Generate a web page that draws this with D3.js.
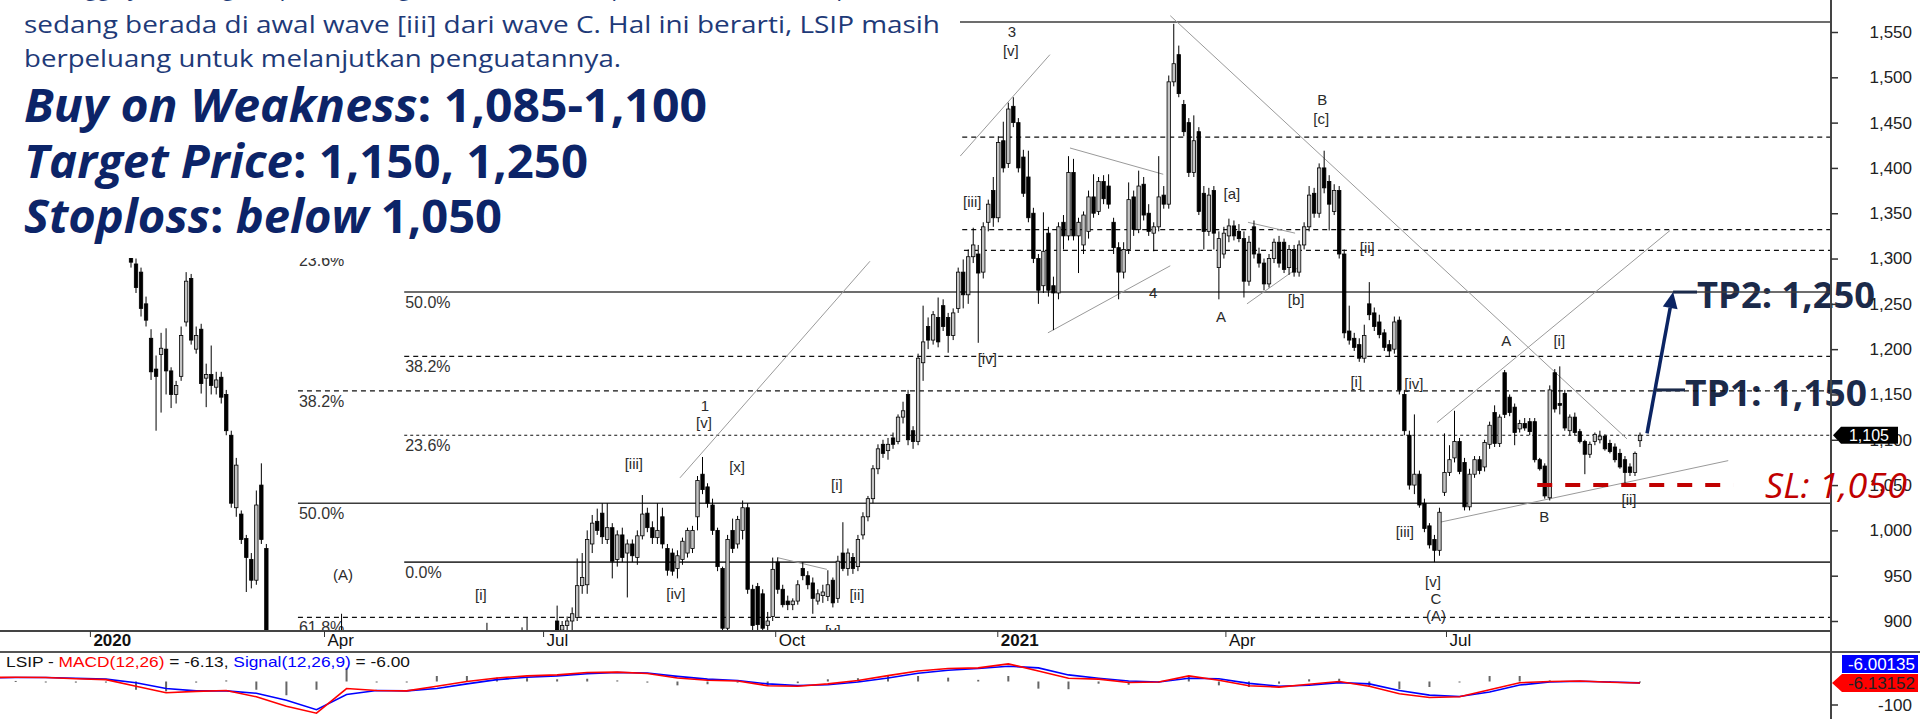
<!DOCTYPE html>
<html lang="id">
<head>
<meta charset="UTF-8">
<title>LSIP - Elliott Wave</title>
<script src="https://d3js.org/d3.v7.min.js"></script>
<style>
  body { margin: 0; background: #fff; }
  svg { display: block; font-family: "Liberation Sans", Arial, sans-serif; }
</style>
</head>
<body>
<svg width="1920" height="719"></svg>
<script>
// LSIP bars, roughly two trading days each, Jan 2020 - Sep 2021: [open, high, low, close]
const candles = [
  [1305,1315,1290,1296],[1294,1300,1262,1268],[1285,1290,1236,1245],[1250,1258,1225,1232],[1212,1222,1166,1175],
  [1178,1193,1110,1170],[1194,1218,1130,1201],[1200,1223,1150,1176],[1176,1180,1135,1150],[1150,1165,1140,1160],
  [1170,1225,1165,1215],[1230,1285,1225,1275],[1278,1283,1205,1210],[1200,1225,1195,1215],[1222,1228,1151,1162],
  [1168,1184,1136,1172],[1172,1204,1150,1160],[1158,1175,1150,1166],[1169,1175,1140,1147],[1150,1155,1105,1110],
  [1105,1110,1025,1030],[1025,1080,1015,1072],[1018,1022,985,990],[991,995,932,970],[968,975,936,945],
  [945,1044,940,1028],[1050,1074,985,990],[980,985,850,865],
  // Mar - Jul 2020, mostly below the visible range
  [860,870,800,810],[810,820,760,770],[770,790,700,720],[720,760,640,660],[660,700,600,620],
  [620,660,560,580],[580,640,540,620],[620,680,600,650],[650,700,620,640],[640,720,630,700],
  [700,760,680,740],[740,800,720,780],[780,840,760,820],[820,870,790,800],[800,908,790,860],
  [860,880,820,840],[840,860,800,810],[810,840,780,830],[830,850,790,800],[800,830,770,820],
  [820,860,810,850],[850,870,820,830],[830,850,800,810],[810,840,790,830],[830,860,815,845],
  [845,870,820,830],[830,850,800,815],[815,845,800,840],[840,870,825,860],[860,880,840,850],
  [850,870,820,830],[830,850,800,820],[820,845,805,835],[835,860,820,850],[850,875,830,840],
  [840,860,815,825],[825,850,810,845],[845,870,830,860],[860,880,845,855],[855,870,830,840],
  [840,865,825,860],[860,880,845,870],[870,885,850,860],[860,898,850,875],[875,885,850,855],
  [855,875,840,865],[865,880,850,870],[870,885,855,860],[860,880,845,875],[875,888,860,880],
  [880,893,865,870],[870,904,860,885],[885,888,860,865],[865,880,850,875],[875,890,860,870],
  [870,885,855,880],[880,888,865,875],[900,917,880,890],[890,900,875,895],[895,905,880,900],
  [900,915,890,908],[904,969,900,939],
  // Jul - Sep 2020
  [939,975,930,948],[940,1000,930,990],[985,1017,975,1008],[1010,1024,995,1000],[1019,1030,985,993],
  [990,1030,985,1003],[1003,1008,947,966],[968,1000,960,995],[995,1003,965,970],[975,990,926,985],
  [985,990,965,972],[970,1000,962,994],[994,1039,990,1018],[1019,1025,998,1003],[1003,1010,985,992],
  [992,1030,985,1000],[1015,1025,980,985],[980,985,950,956],[975,980,950,955],[958,978,947,972],
  [968,992,962,988],[975,1003,970,1000],[980,1005,975,1000],[1015,1060,1000,1055],[1062,1081,1040,1045],
  [1048,1052,1025,1030],[1028,1035,995,1000],[1000,1003,955,960],[958,960,885,892],[892,995,885,990],
  [1000,1013,975,980],[985,1016,980,1012],[1000,1033,990,1025],[1025,1030,930,935],[935,940,890,895],
  // Oct 2020 - Feb 2021
  [938,942,890,896],[930,935,888,892],[895,910,885,900],[905,970,900,957],[965,970,930,935],
  [935,940,915,918],[922,928,912,918],[918,925,912,922],[922,945,918,940],[958,965,945,950],
  [950,955,935,940],[942,948,908,925],[922,935,918,930],[928,940,920,932],[927,956,922,940],
  [945,948,915,920],[925,972,920,966],[975,1009,955,958],[958,980,950,975],[970,975,952,958],
  [960,995,955,990],[995,1020,990,1015],[1015,1038,1010,1035],[1035,1072,1030,1068],[1068,1095,1062,1090],
  [1095,1100,1080,1085],[1088,1102,1078,1095],[1102,1108,1090,1095],[1098,1128,1095,1125],[1125,1142,1118,1132],
  [1150,1155,1094,1100],[1110,1115,1090,1098],[1098,1195,1094,1190],[1185,1248,1165,1208],[1225,1235,1200,1210],
  [1210,1242,1205,1238],[1235,1257,1202,1208],[1248,1255,1220,1225],[1235,1240,1196,1215],[1215,1245,1210,1240],
  [1245,1290,1240,1285],[1285,1299,1245,1260],[1260,1310,1250,1302],[1302,1334,1295,1315],[1305,1315,1207,1284],
  [1285,1340,1278,1335],[1340,1365,1330,1360],[1375,1390,1335,1345],[1345,1435,1340,1428],[1430,1451,1395,1400],
  [1405,1472,1400,1465],[1468,1478,1445,1450],[1450,1455,1395,1400],[1412,1420,1368,1372],[1390,1419,1340,1345],
  [1350,1356,1295,1300],[1300,1305,1250,1265],[1270,1351,1262,1308],[1328,1335,1258,1265],[1270,1280,1221,1262],
  [1262,1340,1255,1335],[1340,1348,1310,1325],[1325,1413,1320,1395],[1395,1410,1320,1325],[1325,1345,1284,1340],
  // Feb - Jun 2021
  [1315,1352,1305,1348],[1330,1375,1322,1368],[1368,1393,1345,1350],[1352,1390,1348,1385],[1385,1392,1360,1366],
  [1380,1393,1355,1360],[1340,1345,1305,1312],[1312,1318,1255,1285],[1285,1318,1278,1310],[1310,1384,1305,1365],
  [1368,1375,1325,1332],[1332,1397,1328,1380],[1382,1390,1342,1348],[1350,1360,1325,1330],[1328,1340,1308,1335],
  [1335,1413,1330,1368],[1370,1380,1355,1360],[1360,1502,1355,1495],[1495,1559,1490,1515],[1525,1535,1478,1482],
  [1470,1475,1435,1440],[1450,1455,1390,1395],[1395,1458,1390,1430],[1440,1445,1348,1352],[1372,1380,1310,1330],
  [1330,1378,1325,1370],[1375,1380,1310,1328],[1290,1330,1255,1322],[1305,1335,1300,1328],[1325,1344,1318,1336],
  [1336,1342,1320,1325],[1330,1338,1318,1322],[1322,1330,1257,1275],[1275,1325,1270,1318],[1335,1342,1300,1305],
  [1305,1312,1290,1295],[1295,1300,1265,1272],[1272,1305,1268,1300],[1300,1322,1295,1318],[1318,1325,1290,1295],
  [1318,1322,1284,1288],[1290,1315,1282,1310],[1310,1315,1280,1285],[1285,1320,1280,1315],[1315,1340,1310,1335],
  [1335,1380,1330,1370],[1372,1378,1345,1350],[1350,1405,1345,1400],[1400,1419,1372,1378],[1385,1392,1331,1360],
  [1352,1382,1348,1375],[1375,1380,1300,1305],[1305,1310,1212,1218],[1220,1248,1205,1210],[1212,1218,1198,1202],
  [1205,1212,1186,1190],[1190,1227,1185,1215],[1250,1274,1232,1238],[1240,1246,1220,1225],[1230,1238,1212,1216],
  [1218,1222,1198,1202],[1205,1210,1192,1198],[1200,1236,1195,1230],[1232,1236,1150,1155],[1150,1155,1105,1110],
  [1105,1110,1045,1050],[1050,1128,1040,1062],
  // Jun - Sep 2021
  [1062,1066,1025,1028],[1030,1035,998,1002],[1005,1008,980,984],[990,995,965,978],[978,1025,972,1020],
  [1042,1107,1038,1064],[1064,1094,1060,1078],[1080,1132,1075,1098],[1098,1102,1062,1065],[1075,1080,1022,1026],
  [1026,1068,1022,1062],[1062,1082,1058,1078],[1078,1082,1062,1066],[1070,1100,1065,1097],[1095,1120,1090,1116],
  [1130,1138,1092,1096],[1096,1128,1092,1125],[1174,1177,1124,1128],[1147,1150,1126,1130],[1136,1140,1094,1108],
  [1112,1122,1108,1118],[1118,1124,1110,1113],[1120,1124,1105,1109],[1120,1124,1075,1078],[1078,1080,1066,1068],
  [1071,1074,1035,1038],[1036,1160,1033,1155],[1174,1178,1130,1134],[1140,1181,1128,1138],[1151,1155,1110,1113],
  [1110,1128,1105,1125],[1125,1130,1105,1108],[1109,1112,1096,1098],[1098,1100,1062,1084],[1084,1098,1080,1095],
  [1098,1108,1094,1106],[1100,1110,1096,1104],[1104,1106,1088,1090],[1096,1100,1085,1087],[1092,1096,1075,1078],
  [1085,1090,1068,1070],[1078,1082,1052,1064],[1070,1074,1060,1064],[1064,1087,1060,1085],[1099,1108,1092,1105]
];

// MACD(12,26) and signal, sampled every 6 bars starting at bar -29
const macdStart = -29, macdStep = 6;
const macdValues = [17,18,17,12,8,-20,-48,-42,-38,-65,-105,-135,-30,-38,-40,-20,0,15,24,28,38,40,34,15,5,2,-18,-20,-10,4,
  25,45,55,58,75,45,14,10,-4,-2,24,5,-18,-24,-12,0,-20,-52,-68,-65,-35,-5,0,2,-3,-6.13];
const signalValues = [15,17,17,14,10,-5,-30,-40,-40,-50,-80,-120,-55,-38,-40,-30,-10,8,18,24,33,38,36,22,10,4,-10,-17,-14,-2,
  15,35,48,55,65,58,28,14,2,-2,14,12,-8,-20,-16,-5,-10,-38,-58,-64,-45,-15,-2,1,-2,-6.00];

const priceTicks = [900,950,1000,1050,1100,1150,1200,1250,1300,1350,1400,1450,1500,1550];
const timeTicks = [
  {label: "2020", bar: -8.2, year: true}, {label: "Apr", bar: 38.5}, {label: "Jul", bar: 82.2},
  {label: "Oct", bar: 128.5}, {label: "2021", bar: 172.8, year: true}, {label: "Apr", bar: 218.3},
  {label: "Jul", bar: 262.3}
];

// Fibonacci retracement levels: price, first bar, line type, label
const fibLevels = [
  {price: 1561, from: 54.5, kind: "solid"},
  {price: 1434, from: 54.5, kind: "dashed"},
  {price: 1332, from: 54.5, kind: "dashed"},
  {price: 1309, from: 33.3, kind: "dashed", label: "23.6%"},
  {price: 1263, from: 54.5, kind: "solid", label: "50.0%"},
  {price: 1192, from: 54.5, kind: "dashed", label: "38.2%"},
  {price: 1154, from: 33.3, kind: "dashed", label: "38.2%"},
  {price: 1105, from: 54.5, kind: "dotted", label: "23.6%"},
  {price: 1030, from: 33.3, kind: "solid", label: "50.0%"},
  {price: 965, from: 54.5, kind: "solid", label: "0.0%"},
  {price: 904, from: 33.3, kind: "dashed", label: "61.8%"}
];

// trend lines: [bar1, price1, bar2, price2]
const trendLines = [
  [109.5, 1058, 147.4, 1297], [165.4, 1413, 183.3, 1525], [187.3, 1422, 205.9, 1393],
  [182.9, 1218, 207.3, 1292], [207.3, 1568, 298.4, 1101], [222.8, 1340, 232.2, 1328],
  [222.6, 1250, 232.8, 1290], [260.5, 1119, 307.0, 1331], [261.1, 1009, 318.6, 1077],
  [128.9, 970, 138.8, 957]
];

// Elliott wave counts: text, bar, price
const waveLabels = [
  ["(A)", 42.3, 945], ["[i]", 69.8, 923], ["[iii]", 100.3, 1068], ["[iv]", 108.7, 924],
  ["1", 114.5, 1132], ["[v]", 114.3, 1113], ["[x]", 120.9, 1064], ["[v]", 140, 883],
  ["[ii]", 144.8, 923], ["[i]", 140.8, 1045], ["[iii]", 167.8, 1357], ["[iv]", 170.8, 1184],
  ["3", 175.7, 1544], ["[v]", 175.5, 1524], ["4", 203.9, 1257], ["A", 217.4, 1230],
  ["[a]", 219.6, 1366], ["[b]", 232.4, 1249], ["B", 237.6, 1469], ["[c]", 237.4, 1449],
  ["[i]", 244.4, 1158], ["[ii]", 246.6, 1306], ["[iii]", 254.1, 993], ["[iv]", 255.9, 1156],
  ["[v]", 259.7, 938], ["C", 260.3, 919], ["(A)", 260.3, 900], ["A", 274.3, 1203],
  ["[i]", 284.9, 1203], ["B", 281.9, 1009], ["[ii]", 298.8, 1028]
];

const lastPrice = 1105, stopLoss = 1050;
const targets = [{name: "TP1: 1,150", price: 1155}, {name: "TP2: 1,250", price: 1263}];
const arrowFrom = [302.4, 1107], arrowTo = [307.6, 1263];

const svg = d3.select("svg");
const axisX = 1831, priceBottom = 631, macdTop = 652, H = 719;

const x = d3.scaleLinear().domain([0, candles.length - 1]).range([131, 1640]);
const y = d3.scaleLinear().domain([900, 1550]).range([621, 32]);
const ym = d3.scaleLinear().domain([-100, 0]).range([705, 681.5]);
const yh = d3.scaleLinear().domain([-10, 0]).range([687, 681.5]);

svg.append("rect").attr("width", 1920).attr("height", H).attr("fill", "#fff");

const defs = svg.append("defs");
defs.append("clipPath").attr("id", "cp").append("rect")
  .attr("x", 0).attr("y", 0).attr("width", axisX).attr("height", priceBottom);
defs.append("clipPath").attr("id", "cm").append("rect")
  .attr("x", 0).attr("y", macdTop).attr("width", axisX).attr("height", H - macdTop);

// target texts sit under the fib lines, as in the original
const ann = svg.append("g");
targets.forEach(t => {
  ann.append("text")
    .attr("x", t.price > 1200 ? 1697 : 1685).attr("y", y(t.price) + 16)
    .attr("font-family", "'Open Sans', sans-serif").attr("font-weight", 700)
    .attr("font-size", 36).attr("fill", "#1b2a4a")
    .attr("textLength", t.price > 1200 ? 178 : 182).attr("lengthAdjust", "spacingAndGlyphs")
    .text(t.name);
});

const gp = svg.append("g").attr("clip-path", "url(#cp)");

// fib lines
gp.selectAll(".fib").data(fibLevels).join("line")
  .attr("x1", d => x(d.from)).attr("x2", axisX)
  .attr("y1", d => y(d.price)).attr("y2", d => y(d.price))
  .attr("stroke", d => d.kind === "solid" ? "#3c3c3c" : "#111")
  .attr("stroke-width", d => d.kind === "solid" ? 1.6 : 1.2)
  .attr("stroke-dasharray", d => d.kind === "dashed" ? "5,4" : d.kind === "dotted" ? "3,3" : null);

gp.selectAll(".fibl").data(fibLevels.filter(d => d.label)).join("text")
  .attr("x", d => x(d.from) + 1).attr("y", d => y(d.price) + 16)
  .attr("font-size", 16).attr("fill", "#333").text(d => d.label);

// trend lines
gp.selectAll(".trend").data(trendLines).join("line")
  .attr("x1", d => x(d[0])).attr("y1", d => y(d[1]))
  .attr("x2", d => x(d[2])).attr("y2", d => y(d[3]))
  .attr("stroke", "#9a9a9a").attr("stroke-width", 1);

// candles
const bw = 3.4;
const cg = gp.append("g");
cg.selectAll(".wick").data(candles).join("line")
  .attr("x1", (d, i) => x(i)).attr("x2", (d, i) => x(i))
  .attr("y1", d => y(d[1])).attr("y2", d => y(d[2]))
  .attr("stroke", "#000").attr("stroke-width", 1);
cg.selectAll(".body").data(candles).join("rect")
  .attr("x", (d, i) => x(i) - bw / 2)
  .attr("y", d => y(Math.max(d[0], d[3])))
  .attr("width", bw)
  .attr("height", d => Math.max(1, Math.abs(y(d[0]) - y(d[3]))))
  .attr("fill", d => d[3] >= d[0] ? "#c4c4c4" : "#000")
  .attr("stroke", "#000").attr("stroke-width", 0.8);

// wave labels
gp.selectAll(".wave").data(waveLabels).join("text")
  .attr("x", d => x(d[1])).attr("y", d => y(d[2]))
  .attr("text-anchor", "middle").attr("font-size", 15).attr("fill", "#2a2a2a")
  .text(d => d[0]);

// stop loss line
svg.append("line")
  .attr("x1", x(280.5)).attr("x2", x(319.6))
  .attr("y1", y(stopLoss)).attr("y2", y(stopLoss))
  .attr("stroke", "#c00000").attr("stroke-width", 4).attr("stroke-dasharray", "15,13");

// target arrow
const S = [x(arrowFrom[0]), y(arrowFrom[1])], T = [x(arrowTo[0]), y(arrowTo[1])];
const len = Math.hypot(T[0] - S[0], T[1] - S[1]);
const u = [(T[0] - S[0]) / len, (T[1] - S[1]) / len], n = [-u[1], u[0]];
const B = [T[0] - 16 * u[0], T[1] - 16 * u[1]];
svg.append("line").attr("x1", S[0]).attr("y1", S[1]).attr("x2", B[0]).attr("y2", B[1])
  .attr("stroke", "#0b2463").attr("stroke-width", 3.5);
svg.append("polygon")
  .attr("points", [T, [B[0] + 7.5 * n[0], B[1] + 7.5 * n[1]], [B[0] - 7.5 * n[0], B[1] - 7.5 * n[1]]].map(p => p.join(",")).join(" "))
  .attr("fill", "#0b2463");
targets.forEach(t => {
  const ty = y(t.price);
  const sx = S[0] + (T[0] - S[0]) * (S[1] - ty) / (S[1] - T[1]);
  svg.append("line").attr("x1", sx).attr("x2", t.price > 1200 ? 1697 : 1685)
    .attr("y1", ty).attr("y2", ty).attr("stroke", "#1b2a4a").attr("stroke-width", 3);
});

// frame lines
svg.append("line").attr("x1", 0).attr("x2", axisX).attr("y1", priceBottom).attr("y2", priceBottom)
  .attr("stroke", "#444").attr("stroke-width", 2);
svg.append("line").attr("x1", 0).attr("x2", 1920).attr("y1", macdTop).attr("y2", macdTop)
  .attr("stroke", "#555").attr("stroke-width", 2);
svg.append("line").attr("x1", axisX).attr("x2", axisX).attr("y1", 0).attr("y2", H)
  .attr("stroke", "#444").attr("stroke-width", 2);

// price axis
const ay = svg.append("g").attr("transform", `translate(${axisX},0)`)
  .call(d3.axisRight(y).tickValues(priceTicks).tickFormat(d3.format(",")).tickSize(7));
ay.select(".domain").remove();
ay.selectAll("line").attr("stroke", "#333").attr("stroke-width", 1.5);
ay.selectAll("text").attr("x", 81).attr("text-anchor", "end")
  .attr("font-size", 17).attr("font-family", "'Liberation Sans', Arial, sans-serif").attr("fill", "#222");

// time axis
const ax = svg.append("g").attr("transform", `translate(0,${priceBottom})`)
  .call(d3.axisBottom(x).tickValues(timeTicks.map(d => d.bar))
    .tickFormat((d, i) => timeTicks[i].label).tickSize(6));
ax.select(".domain").remove();
ax.selectAll("line").attr("stroke", "#333");
ax.selectAll("text").attr("text-anchor", "start").attr("x", 3).attr("y", 3).attr("dy", "0.71em")
  .attr("font-size", 17).attr("font-family", "'Liberation Sans', Arial, sans-serif").attr("fill", "#111")
  .attr("font-weight", (d, i) => timeTicks[i].year ? 700 : 400);

// MACD panel
const gm = svg.append("g").attr("clip-path", "url(#cm)");
const mx = (d, k) => x(macdStart + k * macdStep);
gm.selectAll(".hist").data(macdValues).join("rect")
  .attr("x", (d, k) => mx(d, k) - 1)
  .attr("y", (d, k) => Math.min(yh(d - signalValues[k]), yh(0)))
  .attr("width", 2)
  .attr("height", (d, k) => Math.max(1, Math.abs(yh(d - signalValues[k]) - yh(0))))
  .attr("fill", "#666");
gm.append("path").datum(signalValues)
  .attr("d", d3.line().x(mx).y(d => ym(d)))
  .attr("fill", "none").attr("stroke", "#0000ff").attr("stroke-width", 1.6);
gm.append("path").datum(macdValues)
  .attr("d", d3.line().x(mx).y(d => ym(d)))
  .attr("fill", "none").attr("stroke", "#ff0000").attr("stroke-width", 1.6);

const mt = svg.append("text").attr("x", 6).attr("y", 667).attr("font-size", 15).attr("fill", "#111")
  .attr("textLength", 404).attr("lengthAdjust", "spacingAndGlyphs");
mt.append("tspan").text("LSIP - ");
mt.append("tspan").attr("fill", "#ff0000").text("MACD(12,26)");
mt.append("tspan").text(" = -6.13, ");
mt.append("tspan").attr("fill", "#0000ff").text("Signal(12,26,9)");
mt.append("tspan").text(" = -6.00");

svg.append("line").attr("x1", axisX).attr("x2", axisX + 7).attr("y1", ym(-100)).attr("y2", ym(-100))
  .attr("stroke", "#333").attr("stroke-width", 1.5);
svg.append("text").attr("x", 1912).attr("y", ym(-100)).attr("dy", "0.35em").attr("text-anchor", "end")
  .attr("font-size", 17).attr("fill", "#222").text("-100");
const sigY = 664, macY = ym(macdValues[macdValues.length - 1]);
svg.append("rect").attr("x", 1842).attr("y", sigY - 9).attr("width", 76).attr("height", 18).attr("fill", "#0000ff");
svg.append("text").attr("x", 1915).attr("y", sigY).attr("dy", "0.35em").attr("text-anchor", "end")
  .attr("font-size", 17).attr("fill", "#fff").text("-6.00135");
svg.append("polygon").attr("points", `${axisX + 1},${macY} 1842,${macY - 9} 1918,${macY - 9} 1918,${macY + 9} 1842,${macY + 9}`)
  .attr("fill", "#ff0000");
svg.append("text").attr("x", 1915).attr("y", macY).attr("dy", "0.35em").attr("text-anchor", "end")
  .attr("font-size", 17).attr("fill", "#222").text("-6.13152");

// last price marker
const lp = y(lastPrice);
svg.append("polygon").attr("points", `${axisX + 2},${lp} 1841,${lp - 8.5} 1898,${lp - 8.5} 1898,${lp + 8.5} 1841,${lp + 8.5}`)
  .attr("fill", "#000");
svg.append("text").attr("x", 1869).attr("y", lp).attr("dy", "0.35em").attr("text-anchor", "middle")
  .attr("font-size", 16).attr("fill", "#fff").text(d3.format(",")(lastPrice));

// stop loss label
svg.append("text").attr("x", 1765).attr("y", y(stopLoss) + 13)
  .attr("font-family", "'Open Sans', sans-serif").attr("font-style", "italic")
  .attr("font-size", 35).attr("fill", "#c00000")
  .attr("textLength", 142).attr("lengthAdjust", "spacingAndGlyphs")
  .text("SL: 1,050");

// commentary box over the top-left of the chart
svg.append("rect").attr("x", 0).attr("y", 0).attr("width", 960).attr("height", 258).attr("fill", "#fff");
const body = [
  {t: "Sehingga jika mengacu pada hitungan wave tersebut, posisi LSIP saat ini diperkirakan", y: -5, w: 930},
  {t: "sedang berada di awal wave [iii] dari wave C. Hal ini berarti, LSIP masih", y: 33, w: 916},
  {t: "berpeluang untuk melanjutkan penguatannya.", y: 67, w: 597}
];
svg.selectAll(".body-text").data(body).join("text")
  .attr("x", 24).attr("y", d => d.y)
  .attr("font-family", "'Open Sans', sans-serif").attr("font-size", 24).attr("fill", "#1e3a78")
  .attr("textLength", d => d.w).attr("lengthAdjust", "spacingAndGlyphs")
  .text(d => d.t);

const heads = [
  {y: 122, w: 683, parts: [["Buy on Weakness", true], [": 1,085-1,100", false]]},
  {y: 178, w: 564, parts: [["Target Price", true], [": 1,150, 1,250", false]]},
  {y: 233, w: 478, parts: [["Stoploss", true], [": ", false], ["below", true], [" 1,050", false]]}
];
heads.forEach(h => {
  const t = svg.append("text").attr("x", 24).attr("y", h.y)
    .attr("font-family", "'Open Sans', sans-serif").attr("font-weight", 700)
    .attr("font-size", 46).attr("fill", "#0c2468")
    .attr("textLength", h.w).attr("lengthAdjust", "spacingAndGlyphs");
  h.parts.forEach(p => t.append("tspan").attr("font-style", p[1] ? "italic" : "normal").text(p[0]));
});
</script>
</body>
</html>
